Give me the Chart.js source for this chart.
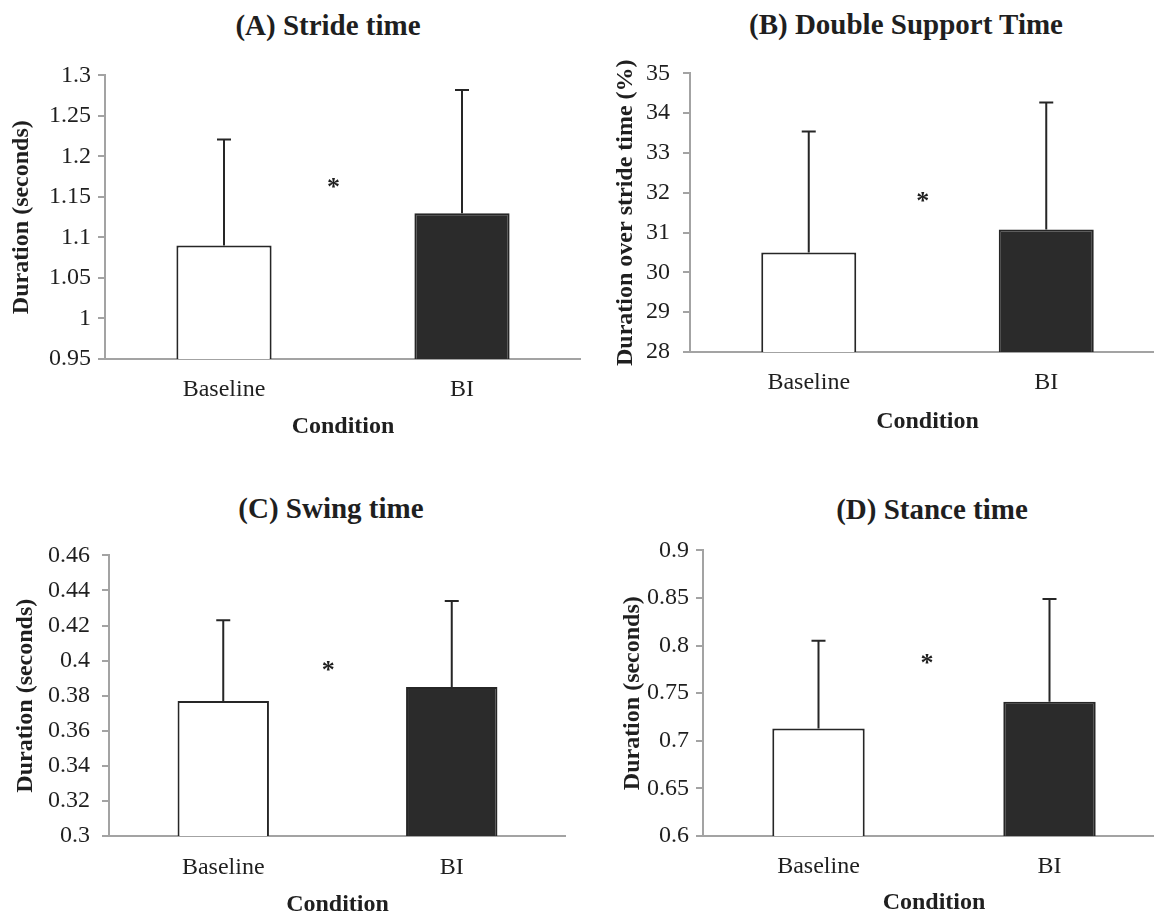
<!DOCTYPE html>
<html>
<head>
<meta charset="utf-8">
<script src="https://cdn.jsdelivr.net/npm/chart.js@4.4.1/dist/chart.umd.min.js"></script>
<style>
  html, body { margin: 0; padding: 0; background: #fff; }
  body { width: 1154px; height: 914px; position: relative; overflow: hidden; }
  canvas { position: absolute; }
  .panel-title {
    position: absolute; width: 500px; text-align: center; white-space: nowrap;
    font: bold 29px "Liberation Serif", "Times New Roman", serif; line-height: 34px; color: #1f1f1f;
  }
</style>
</head>
<body>
<script>
// ---- data ----
const conditions = ["Baseline", "BI"];

const strideMean = [1.09, 1.13];
const strideSD = [0.131, 0.152];
const strideTicks = [0.95, 1, 1.05, 1.1, 1.15, 1.2, 1.25, 1.3];

const dstMean = [30.5, 31.08];
const dstSD = [3.04, 3.19];
const dstTicks = [28, 29, 30, 31, 32, 33, 34, 35];

const swingMean = [0.377, 0.385];
const swingSD = [0.046, 0.049];
const swingTicks = [0.3, 0.32, 0.34, 0.36, 0.38, 0.4, 0.42, 0.44, 0.46];

const stanceMean = [0.713, 0.741];
const stanceSD = [0.092, 0.108];
const stanceTicks = [0.6, 0.65, 0.7, 0.75, 0.8, 0.85, 0.9];

// significance marker: position between categories, and height in axis units
const starPos = [0.46, 0.48, 0.46, 0.47];
const starValue = [1.167, 31.89, 0.397, 0.786];

// ---- layout of the four panels (page pixels) ----
const FONT = '"Liberation Serif", "Times New Roman", serif';
const TEXT = "#1f1f1f";
const AXIS = "#a3a3a3";
const X_BOX = 90;      // height reserved under the plot for labels + axis title
const PAD_TOP = 20;

Chart.defaults.font.family = FONT;
Chart.defaults.color = TEXT;

const panels = [
    { title: "(A) Stride time", titleX: 328, titleY: 28, yTitle: "Duration (seconds)",
      mean: strideMean, sd: strideSD, ticks: strideTicks,
      left: 0, axisX: 105, rightX: 581, top: 74, bottom: 359, yTitleX: 22, labelGap: 7, tickY: 390, condY: 427 },
    { title: "(B) Double Support Time", titleX: 906, titleY: 27, yTitle: "Duration over stride time (%)",
      mean: dstMean, sd: dstSD, ticks: dstTicks,
      left: 577, axisX: 690, rightX: 1165, top: 66, bottom: 352, yTitleX: 626, labelGap: 13, tickY: 383, condY: 422 },
    { title: "(C) Swing time", titleX: 331, titleY: 511, yTitle: "Duration (seconds)",
      mean: swingMean, sd: swingSD, ticks: swingTicks,
      left: 0, axisX: 109, rightX: 566, top: 549, bottom: 836, yTitleX: 26, labelGap: 12, tickY: 868, condY: 905 },
    { title: "(D) Stance time", titleX: 932, titleY: 512, yTitle: "Duration (seconds)",
      mean: stanceMean, sd: stanceSD, ticks: stanceTicks,
      left: 600, axisX: 703, rightX: 1165, top: 549, bottom: 836, yTitleX: 633, labelGap: 7, tickY: 867, condY: 903 },
];

// upper error bars, from the bar top
const errorBars = {
    id: "errorBars",
    afterDatasetsDraw(chart) {
        const { ctx } = chart;
        const y = chart.scales.y;
        const ds = chart.data.datasets[0];
        chart.getDatasetMeta(0).data.forEach((bar, i) => {
            const y0 = y.getPixelForValue(ds.data[i]);
            const y1 = y.getPixelForValue(ds.data[i] + ds.errorUp[i]);
            ctx.save();
            ctx.strokeStyle = "#262626";
            ctx.lineWidth = 2;
            ctx.beginPath();
            ctx.moveTo(bar.x, y0);
            ctx.lineTo(bar.x, y1);
            ctx.moveTo(bar.x - 7, y1);
            ctx.lineTo(bar.x + 7, y1);
            ctx.stroke();
            ctx.restore();
        });
    },
};

const sigStar = {
    id: "sigStar",
    afterDraw(chart, args, opts) {
        const { ctx } = chart;
        const px = chart.scales.x.getPixelForValue(opts.pos);
        const py = chart.scales.y.getPixelForValue(opts.value);
        ctx.save();
        ctx.font = "bold 26px " + FONT;
        ctx.fillStyle = TEXT;
        ctx.textAlign = "center";
        ctx.textBaseline = "alphabetic";
        ctx.fillText("*", px, py + 12);
        ctx.restore();
    },
};

panels.forEach((p, k) => {
    const t = document.createElement("div");
    t.className = "panel-title";
    t.textContent = p.title;
    t.style.left = (p.titleX - 250) + "px";
    t.style.top = (p.titleY - 20) + "px";
    document.body.appendChild(t);

    const canvas = document.createElement("canvas");
    const w = p.rightX - p.left;
    const h = p.bottom + X_BOX - (p.top - PAD_TOP);
    canvas.width = w;
    canvas.height = h;
    canvas.style.left = p.left + "px";
    canvas.style.top = (p.top - PAD_TOP) + "px";
    canvas.style.width = w + "px";
    canvas.style.height = h + "px";
    document.body.appendChild(canvas);

    const half = 24 * 1.2 / 2;

    new Chart(canvas.getContext("2d"), {
        type: "bar",
        data: {
            labels: conditions,
            datasets: [{
                data: p.mean,
                errorUp: p.sd,
                backgroundColor: ["#ffffff", "#2b2b2b"],
                borderColor: "#262626",
                borderWidth: 2,
                barPercentage: 0.4,
                categoryPercentage: 1,
            }],
        },
        options: {
            responsive: false,
            animation: false,
            devicePixelRatio: 1,
            layout: { padding: { top: PAD_TOP, left: 0, right: 0, bottom: 0 } },
            plugins: {
                legend: { display: false },
                tooltip: { enabled: false },
                sigStar: { pos: starPos[k], value: starValue[k] },
            },
            scales: {
                x: {
                    type: "category",
                    offset: true,
                    grid: { display: false, drawTicks: false },
                    border: { display: true, color: AXIS, width: 2 },
                    ticks: { font: { size: 24, family: FONT }, color: TEXT, padding: p.tickY - p.bottom - half },
                    title: {
                        display: true, text: "Condition", color: TEXT,
                        font: { size: 24, weight: "bold", family: FONT },
                        padding: { top: 0, bottom: p.bottom + X_BOX - p.condY - half },
                    },
                    afterFit: (s) => { s.height = X_BOX; },
                },
                y: {
                    type: "linear",
                    min: p.ticks[0],
                    max: p.ticks[p.ticks.length - 1],
                    afterBuildTicks: (s) => { s.ticks = p.ticks.map((v) => ({ value: v })); },
                    grid: { display: true, drawOnChartArea: false, drawTicks: true, tickLength: 7, color: AXIS, lineWidth: 2 },
                    border: { display: true, color: AXIS, width: 2 },
                    ticks: { font: { size: 24, family: FONT }, color: TEXT, padding: p.labelGap, callback: (v) => String(v) },
                    title: {
                        display: true, text: p.yTitle, color: TEXT,
                        font: { size: 24, weight: "bold", family: FONT },
                        padding: { top: p.yTitleX - p.left - half, bottom: 0 },
                    },
                    afterFit: (s) => { s.width = p.axisX - p.left; },
                },
            },
        },
        plugins: [errorBars, sigStar],
    });
});
</script>
</body>
</html>
